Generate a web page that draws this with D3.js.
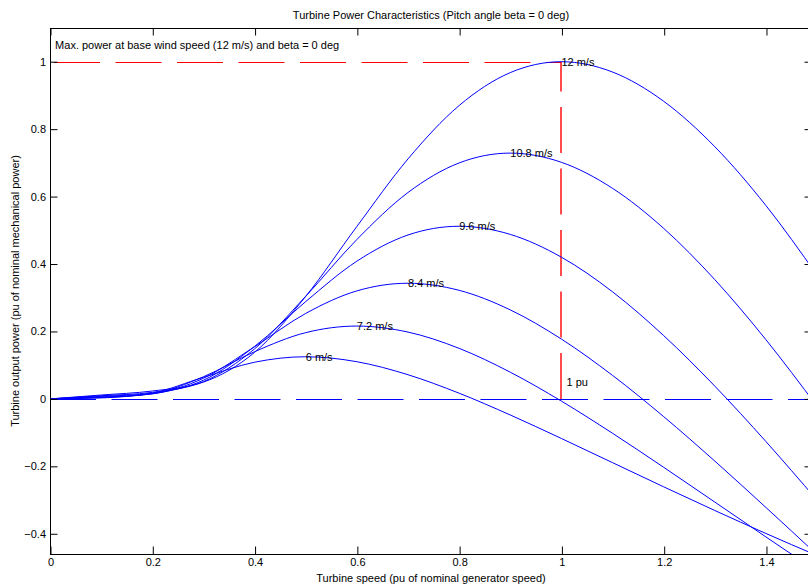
<!DOCTYPE html>
<html>
<head>
<meta charset="utf-8">
<script src="https://cdn.jsdelivr.net/npm/d3@7"></script>
<style>
  html, body { margin: 0; padding: 0; background: #fff; }
  svg text { font-family: "Liberation Sans", Arial, Helvetica, sans-serif; font-size: 11px; fill: #000; }
</style>
</head>
<body>
<svg id="chart" width="808" height="585"></svg>
<script>
// ---- data ----
const turbineSpeed = [0, 0.1, 0.2, 0.3, 0.4, 0.5, 0.6, 0.7, 0.8, 0.9, 1.0, 1.1, 1.2, 1.3, 1.4, 1.5];
const windLabels = ["12 m/s", "10.8 m/s", "9.6 m/s", "8.4 m/s", "7.2 m/s", "6 m/s"];
const power12 = [0, 0.0115, 0.0233, 0.0498, 0.1380, 0.3040, 0.5113, 0.7117, 0.8700, 0.9677, 1.0, 0.9694, 0.8827, 0.7479, 0.5733, 0.3667];
const power108 = [0, 0.0093, 0.0194, 0.0512, 0.1484, 0.3042, 0.4726, 0.6121, 0.6998, 0.7290, 0.7017, 0.6245, 0.5057, 0.3536, 0.1754, -0.0223];
const power96 = [0, 0.0074, 0.0164, 0.0554, 0.1556, 0.2886, 0.4084, 0.4861, 0.5120, 0.4879, 0.4203, 0.3175, 0.1877, 0.0378, -0.1266, -0.3007];
const power84 = [0, 0.0056, 0.0149, 0.0612, 0.1547, 0.2535, 0.3203, 0.3430, 0.3220, 0.2640, 0.1774, 0.0697, -0.0526, -0.1845, -0.3221, -0.4624];
const power72 = [0, 0.0041, 0.0152, 0.0657, 0.1400, 0.1965, 0.2160, 0.1982, 0.1499, 0.0792, -0.0066, -0.1020, -0.2029, -0.3060, -0.4095, -0.5117];
const power60 = [0, 0.0029, 0.0173, 0.0639, 0.1088, 0.1250, 0.1103, 0.0717, 0.0169, -0.0477, -0.1174, -0.1891, -0.2608, -0.3310, -0.3992, -0.4647];
const powerSeries = [power12, power108, power96, power84, power72, power60];
const peakSpeed = [1.0, 0.9, 0.8, 0.7, 0.6, 0.5];
const peakPower = [1.0, 0.729, 0.512, 0.343, 0.216, 0.125];
const xTicks = [0, 0.2, 0.4, 0.6, 0.8, 1, 1.2, 1.4];
const yTicks = [-0.4, -0.2, 0, 0.2, 0.4, 0.6, 0.8, 1];
const xDomain = [0, 1.49];
const yDomain = [-0.46, 1.1];
const titleText = "Turbine Power Characteristics (Pitch angle beta = 0 deg)";
const xLabelText = "Turbine speed (pu of nominal generator speed)";
const yLabelText = "Turbine output power (pu of nominal mechanical power)";
const noteText = "Max. power at base wind speed (12 m/s) and beta = 0 deg";
const notePos = [0.01, 1.05];
const puText = "1 pu";
const puPos = [1.01, 0.05];
const basePoint = [1, 1];

// ---- layout ----
const L = 50, R = 812, T = 28, B = 554;
const svg = d3.select("#chart");
const x = d3.scaleLinear().domain(xDomain).range([L, R]);
const y = d3.scaleLinear().domain(yDomain).range([B, T]);
const fmt = d => d3.format("")(+d.toFixed(1));
const snap = v => Math.round(v) + 0.5;

svg.append("defs").append("clipPath").attr("id", "clip")
  .append("rect").attr("x", L).attr("y", T).attr("width", R - L).attr("height", B - T);

const plot = svg.append("g").attr("clip-path", "url(#clip)");

// zero reference (blue dashed)
plot.append("path")
  .attr("d", d3.line()([[x(0), snap(y(0))], [x(xDomain[1]), snap(y(0))]]))
  .attr("stroke", "#0000ff").attr("stroke-width", 1).attr("fill", "none")
  .attr("stroke-dasharray", "46 15.5");

// red dashed max power lines
plot.append("path")
  .attr("d", d3.line()([[x(0), snap(y(basePoint[1]))], [x(basePoint[0]), snap(y(basePoint[1]))]]))
  .attr("stroke", "#ff0000").attr("stroke-width", 1).attr("fill", "none")
  .attr("stroke-dasharray", "46 15.5").attr("stroke-dashoffset", 57.5);
plot.append("path")
  .attr("d", d3.line()([[Math.round(x(basePoint[0])), y(0)], [Math.round(x(basePoint[0])), y(basePoint[1])]]))
  .attr("stroke", "#ff0000").attr("stroke-width", 1.4).attr("fill", "none")
  .attr("stroke-dasharray", "46 15.5");

// power curves
const line = d3.line().x((d, i) => x(turbineSpeed[i])).y(d => y(d)).curve(d3.curveMonotoneX);
powerSeries.forEach(s => {
  plot.append("path").attr("d", line(s))
    .attr("stroke", "#0000ff").attr("stroke-width", 1).attr("fill", "none");
});

// curve labels
windLabels.forEach((t, i) => {
  svg.append("text").attr("x", x(peakSpeed[i])).attr("y", y(peakPower[i]))
    .attr("dy", "0.35em").text(t);
});
svg.append("text").attr("x", x(puPos[0])).attr("y", y(puPos[1])).attr("dy", "0.35em").text(puText);
svg.append("text").attr("x", x(notePos[0])).attr("y", y(notePos[1])).attr("dy", "0.35em").text(noteText);

// axes box
svg.append("rect").attr("x", L + 0.5).attr("y", T + 0.5).attr("width", R - L).attr("height", B - T)
  .attr("fill", "none").attr("stroke", "#000").attr("stroke-width", 1);

const tl = 7.5;
svg.append("g").attr("transform", `translate(0.5,${B})`)
  .call(d3.axisBottom(x).tickValues(xTicks).tickSizeInner(-tl).tickSizeOuter(0).tickPadding(4).tickFormat(fmt))
  .call(g => g.select(".domain").remove());
svg.append("g").attr("transform", `translate(0.5,${T})`)
  .call(d3.axisTop(x).tickValues(xTicks).tickSizeInner(-tl).tickSizeOuter(0).tickFormat(""))
  .call(g => g.select(".domain").remove());
svg.append("g").attr("transform", `translate(${L},0)`)
  .call(d3.axisLeft(y).tickValues(yTicks).tickSizeInner(-tl).tickSizeOuter(0).tickPadding(4).tickFormat(fmt))
  .call(g => g.select(".domain").remove());
svg.append("g").attr("transform", `translate(${R},0)`)
  .call(d3.axisRight(y).tickValues(yTicks).tickSizeInner(-tl).tickSizeOuter(0).tickFormat(""))
  .call(g => g.select(".domain").remove());
svg.selectAll(".tick line").attr("stroke", "#000");
svg.selectAll(".tick text").style("font-size", "11px").style("font-family", '"Liberation Sans", Arial, sans-serif');

// titles
svg.append("text").attr("x", 431).attr("y", 19).attr("text-anchor", "middle").text(titleText);
svg.append("text").attr("x", 431).attr("y", 582).attr("text-anchor", "middle").text(xLabelText);
svg.append("text").attr("transform", `translate(19,${(T + B) / 2}) rotate(-90)`).attr("text-anchor", "middle").text(yLabelText);
</script>
</body>
</html>
